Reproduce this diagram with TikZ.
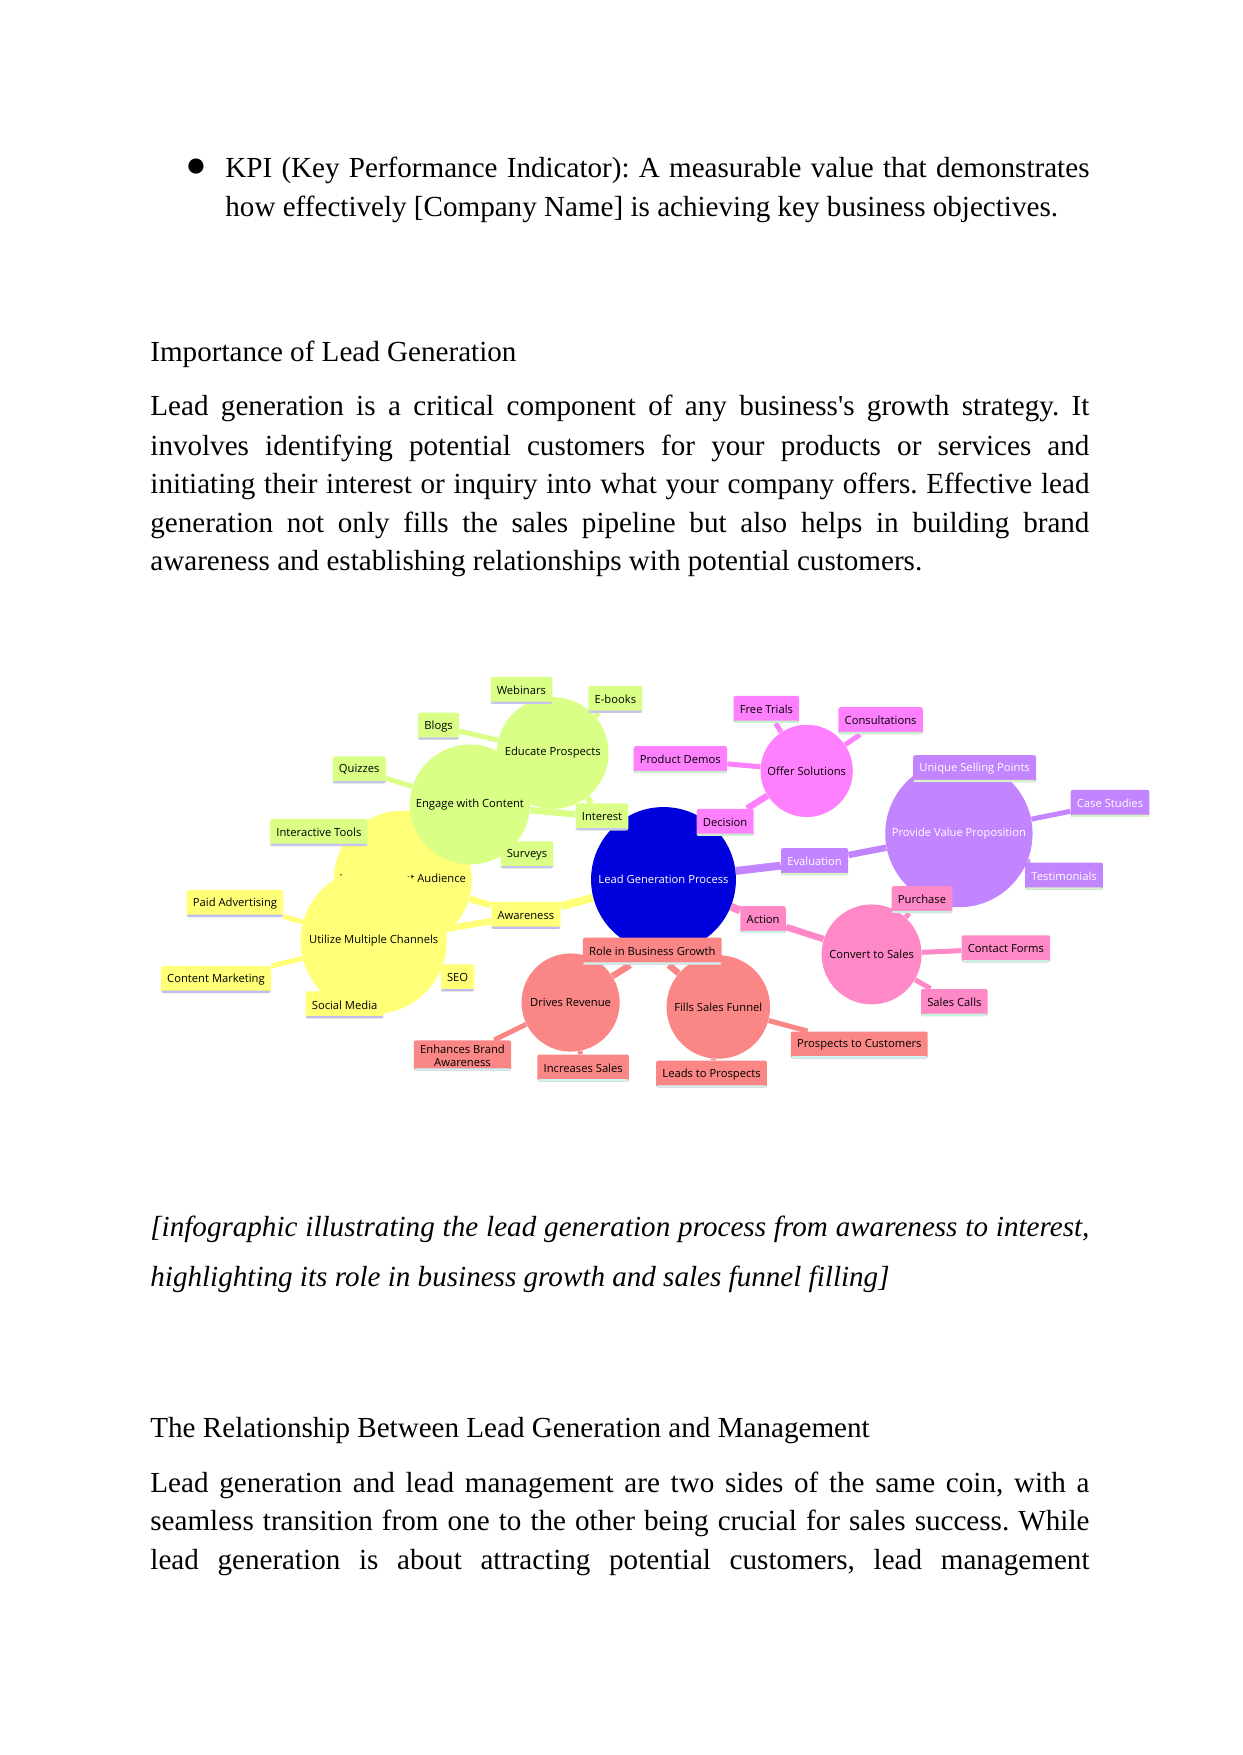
\documentclass[tikz,border=0pt]{standalone}
\usepackage{fontspec}
\setmainfont{Liberation Serif}[Ligatures=TeXOff]
\newfontfamily\mapfont{Open Sans}
\usetikzlibrary{backgrounds}
\definecolor{lime}{HTML}{DAFF87}
\definecolor{limeln}{HTML}{C8C4F0}
\definecolor{lemon}{HTML}{FFFF78}
\definecolor{lemonln}{HTML}{BDBDF2}
\definecolor{royal}{HTML}{0000DC}
\definecolor{orchid}{HTML}{FF80FF}
\definecolor{orchidln}{HTML}{C8F2CC}
\definecolor{lilac}{HTML}{C285FF}
\definecolor{lilacln}{HTML}{D8F2C8}
\definecolor{rose}{HTML}{FF88C6}
\definecolor{roseln}{HTML}{C8F2E4}
\definecolor{coral}{HTML}{FA8686}
\definecolor{coralln}{HTML}{CCF6F6}
\newlength\pw \setlength\pw{158.77mm}
\newcommand\jline[2][\pw]{\makebox[#1][s]{#2}}
\frenchspacing

\begin{document}
\begin{tikzpicture}[x=0.16908mm, y=-0.16908mm,
    body/.style={anchor=base west, inner sep=0pt, font=\fontsize{14}{18}\selectfont},
    hub/.style={circle, inner sep=0pt, minimum size=#1, align=center, font=\mapfont\fontsize{5.4}{6.4}\selectfont},
    tag/.style 2 args={fill=#1, rounded corners=1pt, minimum height=13pt, inner xsep=3pt, inner ysep=2pt, align=center, font=\mapfont\fontsize{5.4}{6.4}\selectfont,
      path picture={\fill[#2] ([yshift=1.1pt]path picture bounding box.south west) rectangle (path picture bounding box.south east);}},
    trunk/.style={line width=3.8pt},
    twig/.style={line width=3.1pt},
    sprig/.style={line width=2.4pt}]
  \useasboundingbox (0,0) rectangle (1242,1755);

  % page text above the map
  \node[anchor=center, inner sep=0pt, font=\fontsize{17}{17}\selectfont] (dot) at (196,168) {●};
  \node[body] (kpia) at (225,177.5) {\jline[146.1mm]{KPI (Key Performance Indicator): A measurable value that demonstrates}};
  \node[body] (kpib) at (225,216.7) {how effectively [Company Name] is achieving key business objectives.};
  \node[body] (imphead) at (150,361) {Importance of Lead Generation};
  \node[body] (impa) at (150,415.8) {\jline{Lead generation is a critical component of any business's growth strategy. It}};
  \node[body] (impb) at (150,455) {\jline{involves identifying potential customers for your products or services and}};
  \node[body] (impc) at (150,493) {\jline{initiating their interest or inquiry into what your company offers. Effective lead}};
  \node[body] (impd) at (150,532.2) {\jline{generation not only fills the sales pipeline but also helps in building brand}};
  \node[body] (impe) at (150,570.2) {awareness and establishing relationships with potential customers.};

  % circles
  \node[hub=23.3mm, fill=lemon] (identify) at (402.8,879.5) {Identify Target Audience};
  \node[hub=24.7mm, fill=lemon] (utilize) at (373.7,941) {Utilize Multiple Channels};
  \node[hub=18.9mm, fill=lime] (educate) at (552.7,753) {Educate Prospects};
  \node[hub=20.3mm, fill=lime] (engage) at (469.9,804.5) {Engage with Content};
  \node[hub=24.5mm, fill=royal, text=white] (lgp) at (663.5,879.5) {Lead Generation Process};
  \node[hub=15.6mm, fill=orchid] (offer) at (806.7,770.9) {Offer Solutions};
  \node[hub=24.9mm, fill=lilac, text=white] (value) at (958.9,833.6) {Provide Value Proposition};
  \node[hub=16.9mm, fill=rose] (convert) at (871.6,954.4) {Convert to Sales};
  \node[hub=16.6mm, fill=coral] (revenue) at (570.6,1002.5) {Drives Revenue};
  \node[hub=17.5mm, fill=coral] (funnel) at (718.3,1007) {Fills Sales Funnel};

  % labelled boxes
  \node[tag={lime}{limeln}] (webinars) at (521.4,690.4) {Webinars};
  \node[tag={lime}{limeln}] (ebooks) at (615.4,699.3) {E-books};
  \node[tag={lime}{limeln}] (blogs) at (438.6,726.2) {Blogs};
  \node[tag={lime}{limeln}] (quizzes) at (359.2,769.8) {Quizzes};
  \node[tag={lime}{limeln}] (interest) at (602,816.8) {Interest};
  \node[tag={lime}{limeln}] (tools) at (318.9,832.5) {Interactive Tools};
  \node[tag={lime}{limeln}] (surveys) at (527,854.8) {Surveys};
  \node[tag={lemon}{lemonln}] (paid) at (235,903.5) {Paid Advertising};
  \node[tag={lemon}{lemonln}] (awareness) at (525.9,915.3) {Awareness};
  \node[tag={lemon}{lemonln}] (content) at (216,979.5) {Content Marketing};
  \node[tag={lemon}{lemonln}] (seo) at (457.6,977.9) {SEO};
  \node[tag={lemon}{lemonln}] (social) at (344.6,1004.8) {Social Media};
  \node[tag={orchid}{orchidln}] (trials) at (766.4,709.4) {Free Trials};
  \node[tag={orchid}{orchidln}] (consult) at (880.6,720.6) {Consultations};
  \node[tag={orchid}{orchidln}] (demos) at (680.3,759.7) {Product Demos};
  \node[tag={orchid}{orchidln}] (decision) at (725.1,822.4) {Decision};
  \node[tag={lilac}{lilacln}, text=white] (usp) at (974.6,768.7) {Unique Selling Points};
  \node[tag={lilac}{lilacln}, text=white] (cases) at (1110,803.4) {Case Studies};
  \node[tag={lilac}{lilacln}, text=white] (evaluation) at (814.6,861.6) {Evaluation};
  \node[tag={lilac}{lilacln}, text=white] (testimonials) at (1064.1,876.1) {Testimonials};
  \node[tag={rose}{roseln}] (purchase) at (922,899.6) {Purchase};
  \node[tag={rose}{roseln}] (action) at (763.1,919.7) {Action};
  \node[tag={rose}{roseln}] (forms) at (1005.9,948.8) {Contact Forms};
  \node[tag={rose}{roseln}] (calls) at (954.4,1002.5) {Sales Calls};
  \node[tag={coral}{coralln}] (growth) at (652.3,951.1) {Role in Business Growth};
  \node[tag={coral}{coralln}] (brand) at (462.5,1055.5) {Enhances Brand\\Awareness};
  \node[tag={coral}{coralln}] (sales) at (583.2,1068) {Increases Sales};
  \node[tag={coral}{coralln}] (customers) at (859.3,1045) {Prospects to Customers};
  \node[tag={coral}{coralln}] (leads) at (711.6,1074.1) {Leads to Prospects};

  % page text below the map
  \node[body, font=\fontsize{14}{18}\selectfont\itshape] (capa) at (150,1236) {\jline{[infographic illustrating the lead generation process from awareness to interest,}};
  \node[body, font=\fontsize{14}{18}\selectfont\itshape] (capb) at (150,1286.3) {highlighting its role in business growth and sales funnel filling]};
  \node[body] (relhead) at (150,1437.4) {The Relationship Between Lead Generation and Management};
  \node[body] (rela) at (150,1492.2) {\jline{Lead generation and lead management are two sides of the same coin, with a}};
  \node[body] (relb) at (150,1530.3) {\jline{seamless transition from one to the other being crucial for sales success. While}};
  \node[body] (relc) at (150,1569.4) {\jline{lead generation is about attracting potential customers, lead management}};

  \begin{scope}[on background layer]
    \fill[white] (0,0) rectangle (1242,1755);
    % root to the stage labels
    \draw[trunk, lime] (lgp) -- (interest);
    \draw[trunk, lemon] (lgp) -- (awareness);
    \draw[trunk, orchid] (lgp) -- (decision);
    \draw[trunk, lilac] (lgp) -- (evaluation);
    \draw[trunk, rose] (lgp) -- (action);
    \draw[trunk, coral] (lgp) -- (growth);
    % labels to circles
    \draw[twig, lime] (interest) -- (engage);
    \draw[twig, lime] (interest) -- (educate);
    \draw[twig, lemon] (awareness) -- (identify);
    \draw[twig, lemon] (awareness) -- (utilize);
    \draw[twig, orchid] (decision) -- (offer);
    \draw[twig, lilac] (evaluation) -- (value);
    \draw[twig, rose] (action) -- (convert);
    \draw[twig, coral] (growth) -- (revenue);
    \draw[twig, coral] (growth) -- (funnel);
    % circles to leaves
    \foreach \leaf in {webinars, ebooks, blogs} \draw[sprig, lime] (educate) -- (\leaf);
    \foreach \leaf in {quizzes, tools, surveys} \draw[sprig, lime] (engage) -- (\leaf);
    \foreach \leaf in {paid, content, social, seo} \draw[sprig, lemon] (utilize) -- (\leaf);
    \foreach \leaf in {trials, demos, consult} \draw[sprig, orchid] (offer) -- (\leaf);
    \foreach \leaf in {usp, cases, testimonials} \draw[sprig, lilac] (value) -- (\leaf);
    \foreach \leaf in {purchase, forms, calls} \draw[sprig, rose] (convert) -- (\leaf);
    \foreach \leaf in {brand, sales} \draw[sprig, coral] (revenue) -- (\leaf);
    \foreach \leaf in {leads, customers} \draw[sprig, coral] (funnel) -- (\leaf);
  \end{scope}
\end{tikzpicture}
\end{document}
